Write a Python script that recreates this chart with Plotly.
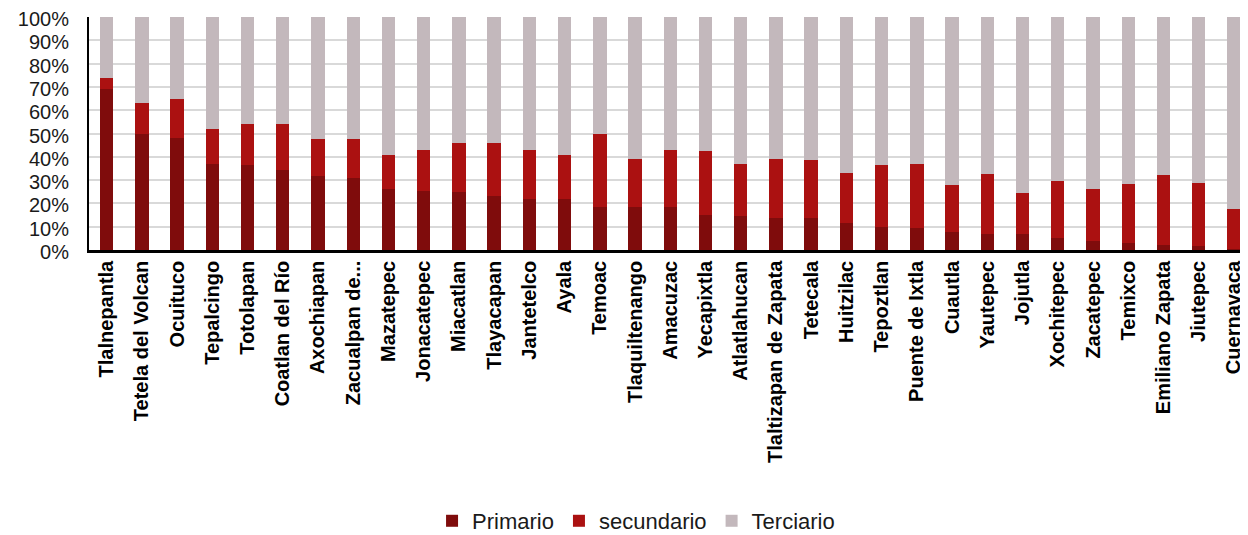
import plotly.graph_objects as go

categories = ["Tlalnepantla", "Tetela del Volcan", "Ocuituco", "Tepalcingo", "Totolapan",
              "Coatlan del Río", "Axochiapan", "Zacualpan de...", "Mazatepec", "Jonacatepec",
              "Miacatlan", "Tlayacapan", "Jantetelco", "Ayala", "Temoac", "Tlaquiltenango",
              "Amacuzac", "Yecapixtla", "Atlatlahucan", "Tlaltizapan de Zapata", "Tetecala",
              "Huitzilac", "Tepoztlan", "Puente de Ixtla", "Cuautla", "Yautepec", "Jojutla",
              "Xochitepec", "Zacatepec", "Temixco", "Emiliano Zapata", "Jiutepec", "Cuernavaca"]

primario = [69.2, 49.8, 48.2, 37.0, 36.4, 34.3, 31.6, 31.0, 26.0, 25.5,
            25.0, 23.2, 21.7, 21.7, 18.4, 18.4, 18.4, 14.9, 14.5, 13.9, 13.9,
            11.6, 9.9, 9.3, 7.7, 6.7, 6.7, 5.0, 4.0, 2.9, 2.3, 1.7, 0.3]

secundario = [4.8, 13.2, 16.5, 14.9, 17.8, 19.9, 15.9, 16.5, 14.9, 17.5,
              20.8, 22.6, 21.3, 19.2, 31.2, 20.8, 24.6, 27.7, 22.5, 25.3, 24.8,
              21.5, 26.5, 27.7, 20.0, 26.0, 17.7, 24.8, 22.0, 25.4, 29.8, 27.1, 17.5]

terciario = [26.0, 37.0, 35.3, 48.1, 45.8, 45.8, 52.5, 52.5, 59.1, 57.0,
             54.2, 54.2, 57.0, 59.1, 50.4, 60.8, 57.0, 57.4, 63.0, 60.8, 61.3,
             66.9, 63.6, 63.0, 72.3, 67.3, 75.6, 70.2, 74.0, 71.7, 67.9, 71.2, 82.2]

y_ticks = [0, 10, 20, 30, 40, 50, 60, 70, 80, 90, 100]
y_tick_labels = ["0%", "10%", "20%", "30%", "40%", "50%", "60%", "70%", "80%", "90%", "100%"]

series = [("Primario", primario, "#7F0C0C"),
          ("secundario", secundario, "#AB1111"),
          ("Terciario", terciario, "#C3B8BC")]

fig = go.Figure()
for name, vals, col in series:
    fig.add_trace(go.Bar(x=categories, y=vals, name=name, marker_color=col,
                         marker_line_width=0))

font_family = "Liberation Sans, Arial, sans-serif"
# page body has an 8px default margin: figure is sized/offset to compensate
fig.update_layout(
    width=1240, height=527,
    barmode="stack", bargap=0.62,
    margin=dict(l=81, r=0, t=9, b=285, autoexpand=False),
    plot_bgcolor="white", paper_bgcolor="white",
    font=dict(family=font_family, color="#1a1a1a", size=20),
    showlegend=True,
    legend=dict(orientation="h", x=0.472, xanchor="center", y=-1.163, yanchor="middle",
                font=dict(size=22, family=font_family, color="#1a1a1a"),
                traceorder="normal", itemwidth=30),
)
fig.update_xaxes(
    range=[-0.5, 32.4], tickangle=-90, automargin=False,
    tickfont=dict(size=20, family=font_family, color="black", weight="bold"),
    showline=True, linecolor="black", linewidth=2.5, ticks="",
    showgrid=False,
)
fig.update_yaxes(
    range=[0, 100], tickvals=y_ticks, ticktext=y_tick_labels, automargin=False,
    tickfont=dict(size=20, family=font_family, color="#1a1a1a"),
    showline=True, linecolor="black", linewidth=2, ticks="",
    ticklabelstandoff=14, ticklabelshift=2, ticklabeloverflow="allow",
    showgrid=True, gridcolor="#D9D9D9", gridwidth=1.5, zeroline=False,
)

fig.write_html("out.html")
